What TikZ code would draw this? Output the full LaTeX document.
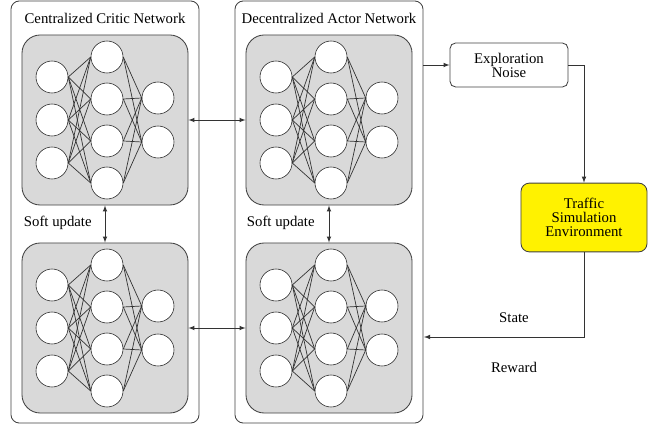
\documentclass[tikz,border=0pt]{standalone}
\usepackage{fontspec}
\setmainfont{Liberation Serif}
\newfontfamily\timesfont{Liberation Serif}
\usepackage{tikz}
\usetikzlibrary{shapes}

\begin{document}
\begin{tikzpicture}[x=0.025cm,y=-0.025cm,font=\timesfont\fontsize{10.5}{12}\selectfont]
			\tikzstyle{outer}=[draw=black!75,line width=0.6pt,rectangle,rounded corners=6pt,minimum width=4.7cm,minimum height=10.55cm]
			\tikzstyle{netbox}=[draw=black!75,line width=0.6pt,fill=black!15,rectangle,rounded corners=13pt,minimum width=4.15cm,minimum height=4.25cm]
			\tikzstyle{neuron}=[draw=black!85,fill=white,circle,inner sep=0pt,minimum size=0.8cm]
			\tikzstyle{block}=[draw=black!75,line width=0.6pt,rectangle,rounded corners=4pt,text centered,align=center]
			\tikzstyle{link}=[draw=black!80,line width=0.5pt]

			\useasboundingbox (0,0) rectangle (649,425);

			\node[outer] (critic) at (105,212) {};
			\node[outer] (actor) at (329,212) {};

			\node at (105,18) {Centralized Critic Network};
			\node at (329,18) {Decentralized Actor Network};

			% the four networks
			\foreach \n/\cx/\cy in {c1/105/120,c2/105/328,a1/329/120,a2/329/328} {
				\node[netbox] (\n) at (\cx,\cy) {};
				\foreach \i/\dy in {1/-43,2/0,3/43}
					\node[neuron] (\n-l\i) at (\cx-53,\cy+\dy) {};
				\foreach \j/\dy in {1/-63,2/-21,3/21,4/63}
					\node[neuron] (\n-m\j) at (\cx+2,\cy+\dy) {};
				\foreach \k/\dy in {1/-22,2/22}
					\node[neuron] (\n-r\k) at (\cx+53,\cy+\dy) {};
				\foreach \i in {1,2,3}
					\foreach \j in {1,...,4}
						\draw[link] (\n-l\i.east) -- (\n-m\j.west);
				\foreach \j in {1,...,4}
					\foreach \k in {1,2}
						\draw[link] (\n-m\j.east) -- (\n-r\k.west);
			}

			\node[anchor=west] (soft1) at (19,223) {Soft update};
			\node[anchor=west] (soft2) at (242,223) {Soft update};

			\draw[link,latex-latex] (c1.south) -- (c2.north);
			\draw[link,latex-latex] (a1.south) -- (a2.north);
			\draw[link,latex-latex] (c1.east) -- (a1.west);
			\draw[link,latex-latex] (c2.east) -- (a2.west);

			\node[block,minimum width=2.95cm,minimum height=1.1cm] (noise) at (509,65) {Exploration\\[-2pt]Noise};
			\node[block,fill=yellow,rounded corners=6pt,minimum width=3.15cm,minimum height=1.72cm] (traffic) at (584,217.5) {Traffic\\[-2pt]Simulation\\[-2pt]Environment};

			\coordinate (statein) at (424,337);

			\draw[link,-latex] (noise.west -| actor.east) -- (noise.west);
			\draw[link,-latex] (noise.east) -| (traffic.north);
			\draw[link,-latex] (traffic.south) |- (statein);

			\node (state) at (514,318) {State};
			\node (reward) at (514,367) {Reward};

		\end{tikzpicture}
\end{document}
